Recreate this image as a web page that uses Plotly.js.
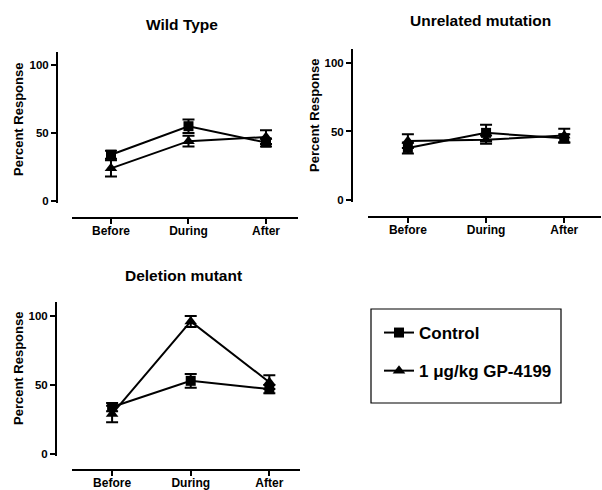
<!DOCTYPE html>
<html>
<head>
<meta charset="utf-8">
<script src="https://cdn.plot.ly/plotly-3.0.1.min.js"></script>
<style>html,body{margin:0;padding:0;background:#fff;}#chart{width:602px;height:490px;}</style>
</head>
<body>
<div id="chart"></div>
<script>
const categories = ['Before', 'During', 'After'];
const seriesNames = ['Control', '1 \u03bcg/kg GP-4199'];
const panelTitles = ['Wild Type', 'Unrelated mutation', 'Deletion mutant'];
const yTicks = [0, 50, 100];

const wtControl = [34, 55, 43];
const wtControlErr = [3, 5, 3];
const wtDrug = [24, 44, 47];
const wtDrugErr = [6, 4, 5];

const unControl = [38, 49, 45];
const unControlErr = [4, 6, 3];
const unDrug = [43, 44, 47];
const unDrugErr = [5, 3, 5];

const delControl = [34, 53, 47];
const delControlErr = [3, 5, 3];
const delDrug = [29, 96, 52];
const delDrugErr = [6, 4, 5];

const W = 602, H = 490;
const px = v => v / W;
const py = v => 1 - v / H;
const FONT = 'Liberation Sans, Arial, sans-serif';

const panels = [
  {c: wtControl, ce: wtControlErr, d: wtDrug, de: wtDrugErr,
   xdom: [72, 298], xpos: 218, xr: [-0.503, 2.413], ydom: [52, 203], ypos: 57, yr: [-1.5, 109.6],
   title: [182, 25], ytitle: [18, 120]},
  {c: unControl, ce: unControlErr, d: unDrug, de: unDrugErr,
   xdom: [368, 601], xpos: 217, xr: [-0.51, 2.47], ydom: [49, 202], ypos: 352, yr: [-1.46, 110.2],
   title: [480, 20], ytitle: [315, 116]},
  {c: delControl, ce: delControlErr, d: delDrug, de: delDrugErr,
   xdom: [72, 300], xpos: 470, xr: [-0.51, 2.39], ydom: [302, 456], ypos: 56, yr: [-1.45, 110.1],
   title: [183, 275], ytitle: [18, 369]}
];

const traces = [];
const layout = {
  width: W, height: H,
  margin: {l: 0, r: 0, t: 0, b: 0},
  paper_bgcolor: '#fff', plot_bgcolor: 'rgba(0,0,0,0)',
  font: {family: FONT, color: '#000', weight: 'bold'},
  showlegend: true,
  legend: {
    x: px(379), y: py(315), xanchor: 'left', yanchor: 'top',
    font: {size: 17, family: FONT, color: '#000', weight: 'bold'},
    bgcolor: 'rgba(0,0,0,0)', borderwidth: 0,
    traceorder: 'grouped', tracegroupgap: 13, itemwidth: 30
  },
  annotations: [],
  shapes: [
    {type: 'rect', xref: 'paper', yref: 'paper', x0: px(371), x1: px(561), y0: py(309), y1: py(403),
     line: {color: '#000', width: 1.2}, fillcolor: 'rgba(0,0,0,0)'}
  ]
};

panels.forEach((p, i) => {
  const n = i + 1;
  const xa = n === 1 ? 'x' : 'x' + n;
  const ya = n === 1 ? 'y' : 'y' + n;
  const xkey = n === 1 ? 'xaxis' : 'xaxis' + n;
  const ykey = n === 1 ? 'yaxis' : 'yaxis' + n;
  const common = {
    type: 'scatter', mode: 'lines+markers', x: categories, xaxis: xa, yaxis: ya,
    line: {color: '#000', width: 2}, cliponaxis: false
  };
  traces.push(Object.assign({}, common, {
    y: p.c, name: seriesNames[0], legendgroup: 'g1', showlegend: i === 0,
    marker: {symbol: 'square', size: 10, color: '#000'},
    error_y: {type: 'data', array: p.ce, visible: true, color: '#000', thickness: 2, width: 6}
  }));
  traces.push(Object.assign({}, common, {
    y: p.d, name: seriesNames[1], legendgroup: 'g2', showlegend: i === 0,
    marker: {symbol: 'triangle-up', size: 11, color: '#000'},
    error_y: {type: 'data', array: p.de, visible: true, color: '#000', thickness: 2, width: 6}
  }));
  layout[xkey] = {
    type: 'category', domain: [px(p.xdom[0]), px(p.xdom[1])], range: p.xr,
    anchor: 'free', position: py(p.xpos),
    showline: true, linecolor: '#000', linewidth: 2, showgrid: false, zeroline: false,
    ticks: 'outside', ticklen: 5, tickwidth: 2, tickcolor: '#000', ticklabelstandoff: -3,
    tickfont: {size: 12, family: FONT, color: '#000', weight: 'bold'}, fixedrange: true
  };
  layout[ykey] = {
    domain: [py(p.ydom[1]), py(p.ydom[0])], range: p.yr,
    anchor: 'free', position: px(p.ypos),
    tickvals: yTicks, ticktext: yTicks.map(String),
    showline: true, linecolor: '#000', linewidth: 2, showgrid: false, zeroline: false,
    ticks: 'outside', ticklen: 5, tickwidth: 2, tickcolor: '#000',
    tickfont: {size: 11.5, family: FONT, color: '#000', weight: 'bold'}, fixedrange: true
  };
  layout.annotations.push({
    text: panelTitles[i], xref: 'paper', yref: 'paper', x: px(p.title[0]), y: py(p.title[1]),
    xanchor: 'center', yanchor: 'middle', showarrow: false,
    font: {size: 15.5, family: FONT, color: '#000', weight: 'bold'}
  });
  layout.annotations.push({
    text: 'Percent Response', xref: 'paper', yref: 'paper', x: px(p.ytitle[0]), y: py(p.ytitle[1]),
    xanchor: 'center', yanchor: 'middle', showarrow: false, textangle: -90,
    font: {size: 13, family: FONT, color: '#000', weight: 'bold'}
  });
});

Plotly.newPlot('chart', traces, layout, {displayModeBar: false, staticPlot: true});
</script>
</body>
</html>
